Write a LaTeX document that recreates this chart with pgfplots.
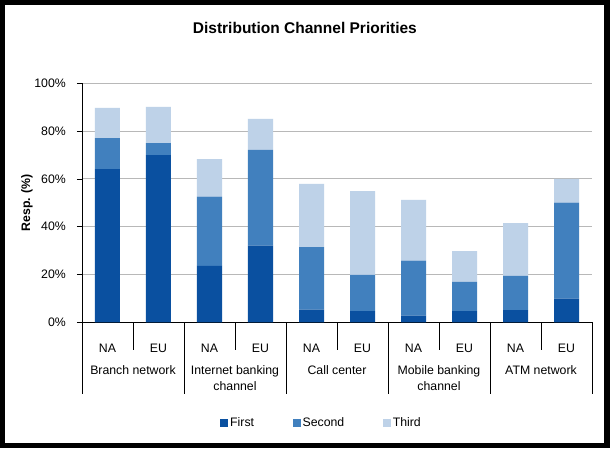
\documentclass[border=0pt]{standalone}
\usepackage{pgfplots}
\pgfplotsset{compat=1.18}
\usepackage{pgfplotstable}
\usepackage{fontspec}
\setmainfont{Liberation Sans}
\definecolor{cFirst}{HTML}{0A50A0}
\definecolor{cSecond}{HTML}{4180BE}
\definecolor{cThird}{HTML}{BED2E8}
\definecolor{cGrid}{HTML}{B8B8B8}
\pgfplotstableread{
x F S T
0 64.1 13.0 12.6
1 70.0 5.0 15.1
2 23.6 29.0 15.7
3 32.1 40.0 13.0
4 5.3 26.2 26.4
5 4.7 15.1 35.1
6 2.8 23.0 25.4
7 4.7 12.2 12.9
8 5.1 14.3 22.1
9 9.9 40.2 9.9
}\datatable
\begin{document}
\begin{tikzpicture}
\fill[black] (0,0) rectangle (610pt,448pt);
\fill[white] (5pt,5pt) rectangle (604pt,443pt);
\begin{axis}[
  at={(82pt,125.7pt)}, anchor=south west,
  scale only axis, width=510pt, height=239pt,
  font=\fontsize{12.3}{14}\selectfont,
  /pgf/number format/assume math mode=true,
  ybar stacked, bar width=25pt,
  xmin=-0.5, xmax=9.5, ymin=0, ymax=100,
  xtick={0,...,9},
  xticklabels={NA,EU,NA,EU,NA,EU,NA,EU,NA,EU},
  xticklabel style={anchor=base, yshift=-25pt, inner sep=0pt},
  major x tick style={draw=none},
  ytick={0,20,...,100},
  yticklabel={\pgfmathprintnumber{\tick}\%},
  yticklabel style={anchor=east, inner sep=0pt, xshift=-11pt},
  tick align=outside, major tick length=5pt,
  y tick style={black, line width=0.8pt},
  ymajorgrids, grid style={cGrid, line width=0.9pt},
  axis x line*=bottom, axis y line*=left,
  axis line style={black, line width=0.9pt, -},
  ylabel={\bfseries Resp. (\%)},
  ylabel style={at={(axis description cs:-0.1078,0.5)}, anchor=center},
  title={Distribution Channel Priorities},
  title style={font=\bfseries\fontsize{15.5}{18}\selectfont, at={(axis description cs:0.437,1.206)}, anchor=center},
  legend style={draw=none, fill=none, legend columns=3, at={(0.4696,-0.4213)}, anchor=center,
    font=\fontsize{12.3}{14}\selectfont,
    /tikz/every even column/.append style={column sep=36.5pt}},
  sq/.style={legend image code/.code={\fill[##1] (0pt,-4pt) rectangle (8pt,4pt);}},
  clip=false,
]
\addplot[fill=cFirst, draw=none, sq] table[x=x, y=F] {\datatable};
\addplot[fill=cSecond, draw=none, sq] table[x=x, y=S] {\datatable};
\addplot[fill=cThird, draw=none, sq] table[x=x, y=T] {\datatable};
\legend{First, Second, Third}
\pgfplotsinvokeforeach{0.5,2.5,4.5,6.5,8.5}{
  \draw[black, line width=0.8pt] (axis cs:#1,0) -- ([yshift=-28pt]axis cs:#1,0);
}
\pgfplotsinvokeforeach{-0.5,1.5,3.5,5.5,7.5,9.5}{
  \draw[black, line width=0.8pt] (axis cs:#1,0) -- ([yshift=-71.7pt]axis cs:#1,0);
}
\node[anchor=base, inner sep=0pt] at ([yshift=-52pt]axis cs:0.5,0) {Branch network};
\node[anchor=base, inner sep=0pt] at ([yshift=-52pt]axis cs:2.5,0) {Internet banking};
\node[anchor=base, inner sep=0pt] at ([yshift=-68pt]axis cs:2.5,0) {channel};
\node[anchor=base, inner sep=0pt] at ([yshift=-52pt]axis cs:4.5,0) {Call center};
\node[anchor=base, inner sep=0pt] at ([yshift=-52pt]axis cs:6.5,0) {Mobile banking};
\node[anchor=base, inner sep=0pt] at ([yshift=-68pt]axis cs:6.5,0) {channel};
\node[anchor=base, inner sep=0pt] at ([yshift=-52pt]axis cs:8.5,0) {ATM network};
\end{axis}
\pgfresetboundingbox
\path (0,0) rectangle (610pt,448pt);
\end{tikzpicture}
\end{document}
